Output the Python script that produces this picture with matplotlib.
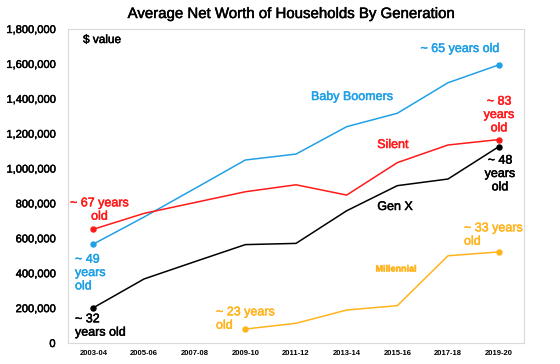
import matplotlib
matplotlib.use("Agg")
import matplotlib.pyplot as plt
import matplotlib.patheffects as pe
from matplotlib.ticker import FuncFormatter

plt.rcParams['font.family'] = ['Liberation Sans', 'DejaVu Sans']

periods = ["2003-04", "2005-06", "2007-08", "2009-10", "2011-12",
           "2013-14", "2015-16", "2017-18", "2019-20"]
baby_boomers = [567000, 722000, 885000, 1049000, 1083000, 1240000, 1317000, 1492000, 1594000]
silent = [652000, 743000, 805000, 867000, 907000, 848000, 1034000, 1135000, 1166000]
gen_x = [202000, 367000, 466000, 564000, 571000, 758000, 902000, 940000, 1125000]
millennial_periods = periods[3:]
millennial = [80000, 113000, 189000, 214000, 500000, 522000]

C_BLUE = '#21a0e6'
C_RED = '#ff1a1a'
C_BLACK = '#000000'
C_ORANGE = '#ffb41e'

W, H = 560, 364
fig = plt.figure(figsize=(W / 100, H / 100), dpi=100)
L, R, T, B = 68, 524, 29, 343
ax = fig.add_axes([L / W, (H - B) / H, (R - L) / W, (B - T) / H])

x_all = list(range(len(periods)))
x_mil = [periods.index(p) for p in millennial_periods]

def draw(xs, ys, color):
    ax.plot(xs, ys, color=color, lw=1.1, zorder=3)
    ax.plot([xs[0], xs[-1]], [ys[0], ys[-1]], 'o', color=color, ms=3.6, zorder=4)

draw(x_all, baby_boomers, C_BLUE)
draw(x_all, silent, C_RED)
draw(x_all, gen_x, C_BLACK)
draw(x_mil, millennial, C_ORANGE)

def thick(color, w=0.35):
    return [pe.withStroke(linewidth=w, foreground=color)]

ax.set_xlim(-0.5, len(periods) - 0.5)
ax.set_ylim(0, 1800000)
ax.set_yticks(range(0, 1800001, 200000))
ax.yaxis.set_major_formatter(FuncFormatter(lambda v, p: f"{int(v):,}"))
ax.set_xticks(x_all)
ax.set_xticklabels(periods, fontsize=5.5, fontweight='bold')
ax.tick_params(axis='y', labelsize=8, length=0, pad=9)
ax.tick_params(axis='x', length=0, pad=5)
for t in ax.get_yticklabels():
    t.set_path_effects(thick('black'))
for s in ax.spines.values():
    s.set_color('#d9d9d9')
    s.set_linewidth(0.8)

fig.text(291.5 / W, (H - 14) / H, "Average Net Worth of Households By Generation",
         ha='center', va='center', fontsize=10.8, path_effects=thick('black'))

def px(xp, yp):
    return ((xp - L) / (R - L), (B - yp) / (B - T))

def label(xp, yp, s, color, ha='center', size=9, weight='normal', ls=1.15):
    fx, fy = px(xp, yp)
    ax.text(fx, fy, s, transform=ax.transAxes, ha=ha, va='center', color=color,
            fontsize=size, fontweight=weight, linespacing=ls, multialignment=ha,
            path_effects=thick(color))

label(83, 40, "$ value", C_BLACK, ha='left', size=8.5)
label(460, 49, "~ 65 years old", C_BLUE)
label(352, 97, "Baby Boomers", C_BLUE)
label(499, 115, "~ 83\nyears\nold", C_RED)
label(393, 145, "Silent", C_RED)
label(500, 174, "~ 48\nyears\nold", C_BLACK)
label(395, 207, "Gen X", C_BLACK)
label(464, 235, "~ 33 years\nold", C_ORANGE, ha='left')
label(396, 269, "Millennial", C_ORANGE, size=6.5, weight='bold')
label(99.5, 210, "~ 67 years\nold", C_RED)
label(75, 273, "~ 49\nyears\nold", C_BLUE, ha='left')
label(75, 326, "~ 32\nyears old", C_BLACK, ha='left')
label(216, 319, "~ 23 years\nold", C_ORANGE, ha='left')

fig.savefig("out.png", dpi=100)
